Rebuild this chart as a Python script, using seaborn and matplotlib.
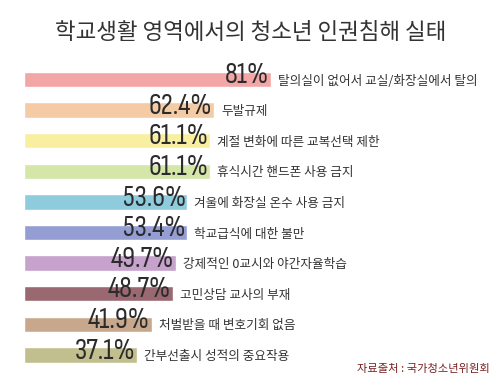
#Import Libraries:

import matplotlib
matplotlib.use("Agg")
import matplotlib.pyplot as plt
from matplotlib import font_manager
import seaborn as sns
import pandas as pd

#Chart data
categories = [
    "탈의실이 없어서 교실/화장실에서 탈의",
    "두발규제",
    "계절 변화에 따른 교복선택 제한",
    "휴식시간 핸드폰 사용 금지",
    "겨울에 화장실 온수 사용 금지",
    "학교급식에 대한 불만",
    "강제적인 0교시와 야간자율학습",
    "고민상담 교사의 부재",
    "처벌받을 때 변호기회 없음",
    "간부선출시 성적의 중요작용",
]
values = [81, 62.4, 61.1, 61.1, 53.6, 53.4, 49.7, 48.7, 41.9, 37.1]
value_labels = ["81%", "62.4%", "61.1%", "61.1%", "53.6%", "53.4%", "49.7%", "48.7%", "41.9%", "37.1%"]
bar_colors = ["#f2a6a6", "#f4cba5", "#f8f0a0", "#d4e6a8", "#8ecbdc",
              "#959ed3", "#c6a2cc", "#9a6870", "#c8a88c", "#c2bf8e"]

title = "학교생활 영역에서의 청소년 인권침해 실태"
source = "자료출처 : 국가청소년위원회"

sns.set_style("white")
plt.rcParams['font.family'] = ['Noto Sans CJK KR', 'DejaVu Sans']

#condensed font for the big numbers, first one that is installed
installed = {f.name for f in font_manager.fontManager.ttflist}
num_font = 'DejaVu Sans'
for name in ['Sofia Sans Condensed', 'Roboto Condensed', 'Barlow Condensed', 'Archivo Narrow']:
    if name in installed:
        num_font = name
        break

df = pd.DataFrame({"category": categories, "value": values})

fig = plt.figure(figsize=(5, 3.88), dpi=100)
ax = fig.add_axes([0, 0, 1, 1])

sns.barplot(data=df, x="value", y="category", hue="category", palette=bar_colors,
            legend=False, width=0.5, ax=ax, saturation=1)

#map data to pixels: 0% at x=24px, 3.05px per %
ax.set_xlim(-24 / 3.05, 476 / 3.05)
ax.set_ylim(10.08, -2.598)
ax.axis("off")

for i, (v, lab, cat) in enumerate(zip(values, value_labels, categories)):
    ax.text(v - 0.6, i + 0.12, lab, ha="right", va="baseline", fontsize=21,
            family=[num_font, 'DejaVu Sans'], fontweight="light", color="#2b2b2b")
    ax.text(v + 2.3, i + 0.05, cat, ha="left", va="center", fontsize=9.1, color="#333333")

fig.text(0.502, 0.915, title, ha="center", va="center", fontsize=16.2, color="#333333")
fig.text(0.98, 0.048, source, ha="right", va="center", fontsize=8.1, color="#7a2222")

plt.savefig("out.png", dpi=100)
